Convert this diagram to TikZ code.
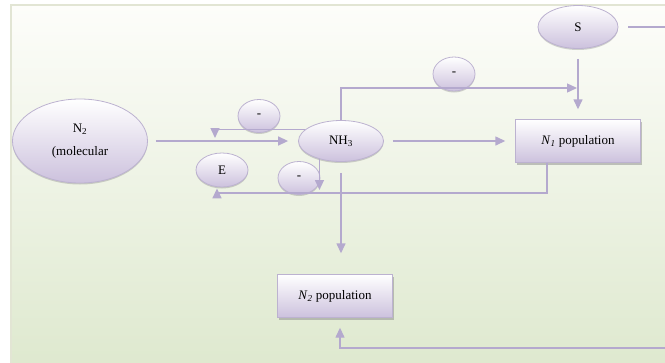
\documentclass[tikz,border=0pt]{standalone}
\usepackage{fontspec}
\setmainfont{Liberation Serif}
\usetikzlibrary{shapes.geometric,arrows.meta,shadows}
\definecolor{lav}{RGB}{204,193,221}
\definecolor{lavline}{RGB}{180,169,206}
\definecolor{lavedge}{RGB}{188,178,208}
\definecolor{bgtop}{RGB}{253,253,250}
\definecolor{bgbot}{RGB}{221,232,205}
\definecolor{bgedge}{RGB}{226,229,212}

\begin{document}
\begin{tikzpicture}[x=1pt,y=-1pt,font=\fontsize{13}{15}\selectfont,
    blob/.style={ellipse,draw=lavedge,line width=0.8pt,top color=white,bottom color=lav,inner sep=0pt,
        drop shadow={shadow xshift=0pt,shadow yshift=-1.5pt,opacity=0.35}},
    popbox/.style={rectangle,draw=lavedge,top color=white,bottom color=lav,minimum height=43pt,
        drop shadow={shadow xshift=1.5pt,shadow yshift=-2pt,opacity=0.45}},
    link/.style={draw=lavline,line width=1.4pt,-{Triangle[length=10pt,width=9pt]}}]
    \useasboundingbox (0,0) rectangle (665,362);
    \clip (0,0) rectangle (665,362);
    \shade[top color=bgtop,bottom color=bgbot,draw=bgedge,line width=1.2pt] (11,5) rectangle (700,380);

    \node[blob,minimum width=135pt,minimum height=84pt,align=center] (n2) at (80,141) {N\textsubscript{2}\\[8pt](molecular};
    \node[blob,minimum width=85pt,minimum height=41pt] (nh3) at (341,141) {NH\textsubscript{3}};
    \node[blob,minimum width=80pt,minimum height=43pt] (s) at (578,27) {S};
    \node[blob,minimum width=52pt,minimum height=34pt] (e) at (222,170) {E};
    \node[blob,minimum width=42pt,minimum height=33pt] (m1) at (259,116) {-};
    \node[blob,minimum width=42pt,minimum height=33pt] (m2) at (299,178) {-};
    \node[blob,minimum width=42pt,minimum height=34pt] (m3) at (454,74) {-};
    \node[popbox,minimum width=125pt] (n1pop) at (578,141) {\textit{N}\textsubscript{\textit{1}} population};
    \node[popbox,minimum width=115pt] (n2pop) at (335,296) {\textit{N}\textsubscript{\textit{2}} population};

    \coordinate (fb) at (215,138);
    \coordinate (j1) at (578,88);
    \coordinate (r1) at (547,193);
    \coordinate (r2) at (217,193);
    \coordinate (re) at (700,348);

    \draw[link,shorten <=8pt,shorten >=10pt] (n2) -- (nh3);
    \draw[link,shorten <=9pt,shorten >=10pt] (nh3) -- (n1pop);
    \draw[link] (nh3.162) -| (fb);
    \draw[link,shorten >=1pt] (nh3.north) |- (j1);
    \draw[link,shorten <=10pt,shorten >=10pt] (s) -- (n1pop);
    \draw[link,shorten >=3pt] (nh3.220) -- (nh3.220 |- r1);
    \draw[link,shorten >=1pt] ([xshift=-31pt]n1pop.south) -- (r1) -- (r2) -- (r2 |- e.south);
    \draw[link,shorten <=11pt,shorten >=21pt] (nh3.south) -- (nh3.south |- n2pop.north);
    \draw[link,shorten <=10pt,shorten >=10pt] (s.east) -- (s.east -| re) -- (re) -| ([xshift=5pt]n2pop.south);
\end{tikzpicture}
\end{document}
